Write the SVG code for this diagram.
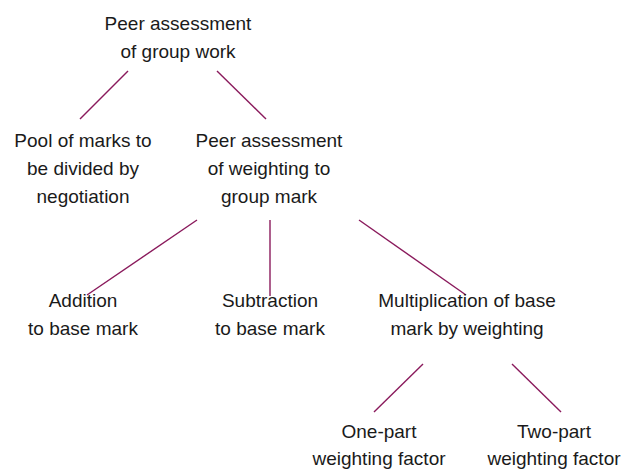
<svg xmlns="http://www.w3.org/2000/svg" width="625" height="470" viewBox="0 0 625 470">
<style>
text{font-family:"Liberation Sans",Arial,sans-serif;font-size:19px;fill:#1a1a1a;text-anchor:middle}
.c line{stroke:#8a1a5c;stroke-width:1.4;fill:none}
</style>
<rect width="625" height="470" fill="#fff"/>
<g class="c" id="connectors">
<line x1="128" y1="71" x2="80" y2="119"/>
<line x1="217" y1="71" x2="266" y2="119"/>
<line x1="197" y1="220" x2="87" y2="295"/>
<line x1="270" y1="220" x2="270" y2="296"/>
<line x1="359" y1="220" x2="466" y2="295"/>
<line x1="423" y1="364" x2="374" y2="412"/>
<line x1="512" y1="364" x2="561" y2="412"/>
</g>
<g id="n1"><text x="178" y="30">Peer assessment</text><text x="178" y="58">of group work</text></g>
<g id="n2"><text x="83" y="147">Pool of marks to</text><text x="83" y="175">be divided by</text><text x="83" y="203">negotiation</text></g>
<g id="n3"><text x="269" y="147">Peer assessment</text><text x="269" y="175">of weighting to</text><text x="269" y="203">group mark</text></g>
<g id="n4"><text x="83" y="307">Addition</text><text x="83" y="335">to base mark</text></g>
<g id="n5"><text x="270" y="307">Subtraction</text><text x="270" y="335">to base mark</text></g>
<g id="n6"><text x="467" y="307">Multiplication of base</text><text x="467" y="335">mark by weighting</text></g>
<g id="n7"><text x="379" y="438">One-part</text><text x="379" y="465">weighting factor</text></g>
<g id="n8"><text x="554" y="438">Two-part</text><text x="554" y="465">weighting factor</text></g>
</svg>
